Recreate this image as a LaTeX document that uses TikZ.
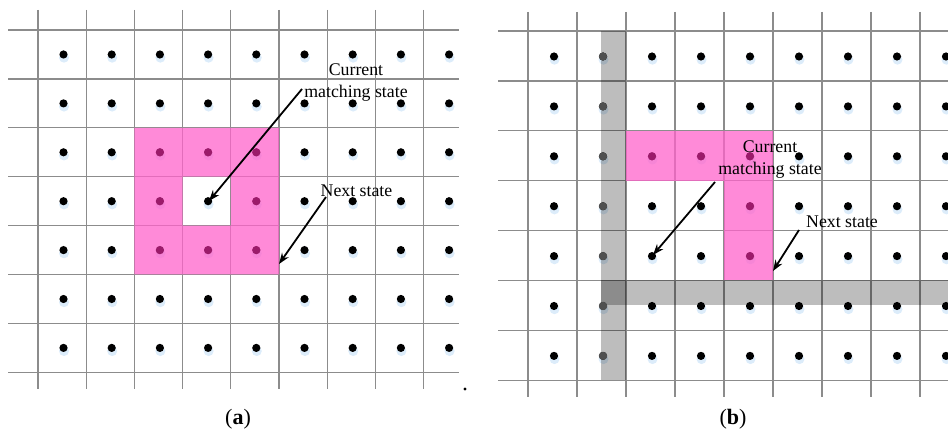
\documentclass[tikz,border=0pt]{standalone}
\usepackage{fontspec}
\setmainfont{Liberation Serif}
\usetikzlibrary{arrows.meta}
\definecolor{gridgray}{RGB}{140,140,140}
\definecolor{pinkbase}{RGB}{255,99,203}
\definecolor{pinkdot}{RGB}{155,27,106}
\definecolor{banddot}{RGB}{80,80,80}
\definecolor{glow}{RGB}{205,228,248}
\tikzset{
  gridline/.style={draw=gridgray, line width=1.3pt},
  dotglow/.style={fill=glow, opacity=0.7},
  pinkfill/.style={fill=pinkbase, fill opacity=0.75},
  bandfill/.style={fill=black, fill opacity=0.26},
  lbl/.style={font=\fontsize{17.8}{22}\selectfont, align=center, inner sep=0pt},
  captext/.style={font=\fontsize{22}{26}\selectfont, inner sep=0pt},
  pointer/.style={line width=1.8pt, -{Stealth[length=11pt,width=8pt]}}
}
\newcommand{\griddot}[3]{%
  \fill[dotglow] (#1+0.5,#2+3.2) circle (5);
  \fill[#3] (#1,#2) circle (4.1);}
\begin{document}
\begin{tikzpicture}[x=1pt,y=-1pt]
\useasboundingbox (0,0) rectangle (948,435);
% ===== panel (a) =====
\foreach \i in {0,...,8} \draw[gridline] (38+48.2*\i,10) -- (38+48.2*\i,389);
\foreach \j in {0,...,7} \draw[gridline] (8,30+48.9*\j) -- (459,30+48.9*\j);
\foreach \i in {0,...,8} \foreach \j in {0,...,6} \griddot{63.5+48.2*\i}{54.5+48.9*\j}{black};
\fill[pinkfill, even odd rule] (134.4,127.8) rectangle (279,274.5) (182.6,176.7) rectangle (230.8,225.6);
\foreach \i/\j in {2/2,3/2,4/2,2/3,4/3,2/4,3/4,4/4} \fill[pinkdot] (63.5+48.2*\i,54.5+48.9*\j) circle (4.1);
\fill[black] (465,389) circle (1.7);
\node[lbl] (acur) at (356,83) {Current\\matching state};
\node[lbl] (anext) at (356.5,191) {Next state};
\coordinate (acurS) at (302,89);
\coordinate (acurT) at (209,201);
\coordinate (anextS) at (326,197);
\coordinate (anextT) at (279,264);
\draw[pointer] (acurS) -- (acurT);
\draw[pointer] (anextS) -- (anextT);
\node[captext] (capa) at (238,419) {(\textbf{a})};
% ===== panel (b) =====
\foreach \i in {0,...,8} \draw[gridline] (528+49*\i,12) -- (528+49*\i,397);
\foreach \j in {0,...,7} \draw[gridline] (498,31+49.9*\j) -- (948,31+49.9*\j);
\foreach \i in {0,...,8} \foreach \j in {0,...,6} \griddot{554+49*\i}{56.5+49.9*\j}{black};
\fill[pinkfill] (626,130.8) rectangle (773,180.7);
\fill[pinkfill] (724,180.7) rectangle (773,280.5);
\fill[bandfill] (601,31) rectangle (626,380.3);
\fill[bandfill] (601,280.5) rectangle (948,305);
\foreach \j in {0,...,6} \fill[banddot] (603,56.5+49.9*\j) circle (4.1);
\foreach \i/\j in {2/2,3/2,4/2,4/3,4/4} \fill[pinkdot] (554+49*\i,56.5+49.9*\j) circle (4.1);
\node[lbl] (bcur) at (770,160) {Current\\matching state};
\node[lbl] (bnext) at (842,222) {Next state};
\coordinate (bcurS) at (715,182);
\coordinate (bcurT) at (653,255);
\coordinate (bnextS) at (799,230);
\coordinate (bnextT) at (773,271);
\draw[pointer] (bcurS) -- (bcurT);
\draw[pointer] (bnextS) -- (bnextT);
\node[captext] (capb) at (733,419) {(\textbf{b})};
\end{tikzpicture}
\end{document}
